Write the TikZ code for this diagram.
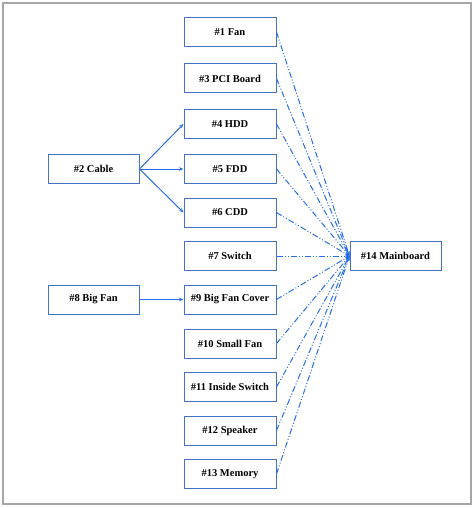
\documentclass[tikz,border=0pt]{standalone}
\usepackage{fontspec}
\setmainfont{Liberation Serif}
\usetikzlibrary{arrows.meta}

\definecolor{boxblue}{RGB}{68,114,196}
\definecolor{linkblue}{RGB}{40,110,230}

\tikzset{
  part/.style={draw=boxblue,line width=1pt,minimum width=92pt,minimum height=29pt,
    inner sep=0pt,font=\fontsize{10.5}{12}\selectfont\bfseries},
  feed/.style={draw=linkblue,line width=1pt,-{Stealth[length=4.5pt,width=3.5pt]}},
  link/.style={feed,dash pattern=on 6pt off 2pt on 1pt off 2pt on 1pt off 2pt}
}

\begin{document}
\begin{tikzpicture}[x=1pt,y=-1pt]
\useasboundingbox (0,0) rectangle (474,508);
\draw[line width=1.5pt,gray!70] (3,3) rectangle (471,504);

\foreach \n/\t/\y in {1/\#1 Fan/32, 3/\#3 PCI Board/78.5, 4/\#4 HDD/124, 5/\#5 FDD/169,
  6/\#6 CDD/212.5, 7/\#7 Switch/256, 9/\#9 Big Fan Cover/299.5, 10/\#10 Small Fan/343.5,
  11/\#11 Inside Switch/387, 12/\#12 Speaker/430.5, 13/\#13 Memory/474}
  \node[part] (p\n) at (230,\y) {\t};

\node[part,minimum width=91pt] (p2) at (93.5,169) {\#2 Cable};
\node[part,minimum width=91pt] (p8) at (93.5,299.5) {\#8 Big Fan};
\node[part,minimum width=91pt] (p14) at (395.5,256) {\#14 Mainboard};

\foreach \s in {4,5,6}
  \draw[feed] (p2.east) -- (p\s.west);
\draw[feed] (p8.east) -- (p9.west);

\foreach \s in {1,3,4,5,6,7,9,10,11,12,13}
  \draw[link] (p\s.east) -- (p14.west);
\end{tikzpicture}
\end{document}
